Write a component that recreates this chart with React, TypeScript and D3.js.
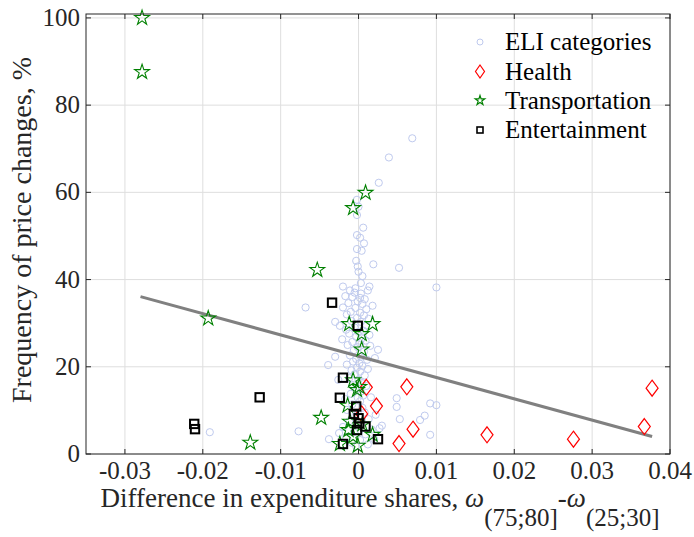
import React, { useEffect, useRef } from 'react';
import * as d3 from 'd3';

// ELI categories: [difference in expenditure shares, frequency %]
const eliPoints: [number, number][] = [
  [0.0069, 72.4], [0.0039, 68.0], [0.0026, 62.2], [-0.0002, 58.3], [0.0, 56.7], [-0.0002, 54.8],
  [0.0006, 51.9], [-0.0002, 50.2], [0.0002, 49.6], [0.0007, 48.3], [-0.0002, 47.0], [0.0004, 46.6],
  [-0.0003, 44.3], [0.0019, 43.5], [0.0052, 42.7], [-0.0001, 43.0], [0.0, 41.8], [0.0005, 40.8],
  [0.0003, 39.2], [-0.002, 38.4], [0.0014, 38.4], [-0.0004, 38.0], [-0.0011, 37.5], [0.0012, 37.5],
  [0.01, 38.2], [-0.0005, 37.0], [0.0003, 36.8], [-0.0017, 36.2], [-0.0008, 36.0], [0.0002, 35.8],
  [0.0008, 35.5], [-0.0001, 35.0], [-0.0013, 34.6], [0.0005, 34.4], [-0.0068, 33.6], [-0.002, 33.6],
  [-0.0004, 33.5], [0.001, 33.2], [-0.001, 32.6], [0.0002, 32.4], [-0.0015, 32.0], [0.0007, 31.8],
  [-0.0002, 31.2], [0.0013, 31.0], [-0.0009, 30.5], [0.0003, 30.3], [-0.003, 30.3], [0.001, 29.5],
  [-0.0005, 29.0], [-0.0016, 28.5], [0.0006, 28.3], [0.0, 28.0], [-0.0012, 27.6], [0.0014, 27.3],
  [-0.0003, 26.9], [0.0004, 26.5], [-0.0021, 26.3], [0.0009, 26.0], [-0.0008, 25.7], [0.0002, 25.4],
  [-0.0014, 25.0], [0.0015, 24.8], [-0.0001, 24.5], [0.0025, 23.9], [-0.0006, 23.8], [0.0007, 23.5],
  [-0.003, 22.3], [-0.0011, 22.6], [0.0003, 22.3], [-0.0003, 21.8], [0.0011, 21.6], [-0.0007, 21.2],
  [0.0001, 20.8], [-0.0039, 20.4], [-0.0015, 20.5], [0.0005, 20.2], [-0.0002, 19.8], [0.0012, 19.5],
  [-0.0009, 19.2], [0.0002, 18.9], [-0.0005, 18.3], [0.0008, 18.0], [-0.0012, 17.4], [0.0, 17.0],
  [0.0004, 16.3], [-0.0007, 15.8], [0.001, 15.6], [-0.0003, 14.9], [0.0003, 14.3], [-0.001, 13.8],
  [0.0006, 13.4], [-0.0001, 12.9], [-0.0017, 12.6], [0.0002, 12.1], [0.0049, 12.8], [0.0049, 10.8],
  [0.0092, 11.6], [0.01, 11.2], [0.0085, 8.8], [0.0079, 7.8], [0.0053, 8.0], [0.0092, 4.4],
  [-0.0077, 5.2], [-0.0191, 5.0], [-0.0038, 3.4], [0.0027, 5.9], [-0.0008, 11.4], [0.0005, 10.6],
  [-0.0015, 10.1], [0.0008, 9.5], [-0.0004, 8.8], [0.0013, 8.0], [-0.0012, 7.5], [0.0003, 6.9],
  [-0.002, 6.2], [0.0017, 5.6], [-0.0006, 5.0], [0.0009, 4.5], [-0.0016, 3.8], [0.0002, 3.2],
  [-0.0009, 2.6], [0.0012, 2.2], [-0.0003, 1.8], [0.003, 6.5], [0.002, 3.4], [-0.0025, 4.8],
  [0.0021, 22.0], [-0.0024, 29.4], [0.0018, 34.0], [-0.0026, 17.0], [0.0016, 13.0], [0.0022, 9.0],
];

const healthPoints: [number, number][] = [
  [0.001, 15.3], [0.0023, 11.0], [0.0062, 15.4], [0.007, 5.7], [0.0052, 2.4],
  [0.0165, 4.4], [0.0276, 3.4], [0.0367, 6.3], [0.0377, 15.1], [0.0004, 9.2],
];

const transportPoints: [number, number][] = [
  [-0.0278, 100], [-0.0278, 87.6], [-0.0193, 31.1], [-0.0139, 2.6], [-0.0053, 42.2],
  [-0.0048, 8.3], [0.0009, 59.9], [-0.0007, 56.4], [-0.0012, 29.8], [0.0018, 29.8],
  [0.0004, 27.5], [0.0004, 24.0], [-0.0007, 16.9], [0.0001, 15.4], [-0.0002, 14.7],
  [-0.0014, 11.1], [-0.0011, 7.4], [0.0005, 6.8], [0.0018, 4.4], [-0.0007, 4.0],
  [-0.0024, 2.3], [-0.0001, 1.9], [-0.0013, 5.5],
];

const entertainmentPoints: [number, number][] = [
  [-0.0211, 6.9], [-0.021, 5.7], [-0.0127, 13.0], [-0.0034, 34.7], [-0.0001, 29.4],
  [-0.002, 17.5], [-0.0024, 12.9], [-0.0003, 10.9], [-0.0006, 9.2], [0.0, 8.2],
  [0.0001, 7.0], [0.0009, 6.3], [-0.0002, 5.5], [0.0025, 3.4], [-0.002, 2.3],
];

// fitted line endpoints
const fitX = [-0.028, 0.0377];
const fitY = [36.1, 4.0];

const xTicks = [-0.03, -0.02, -0.01, 0, 0.01, 0.02, 0.03, 0.04];
const xTickLabels = ['-0.03', '-0.02', '-0.01', '0', '0.01', '0.02', '0.03', '0.04'];
const yTicks = [0, 20, 40, 60, 80, 100];

const legendLabels = ['ELI categories', 'Health', 'Transportation', 'Entertainment'];

const FONT = '"Liberation Serif", "Times New Roman", serif';

function starPath(r: number) {
  const inner = r * 0.382;
  const pts: string[] = [];
  for (let i = 0; i < 10; i++) {
    const rad = i % 2 === 0 ? r : inner;
    const a = -Math.PI / 2 + (i * Math.PI) / 5;
    pts.push(`${(rad * Math.cos(a)).toFixed(2)},${(rad * Math.sin(a)).toFixed(2)}`);
  }
  return 'M' + pts.join('L') + 'Z';
}

function diamondPath(w: number, h: number) {
  return `M0,${-h}L${w},0L0,${h}L${-w},0Z`;
}

export default function App() {
  const svgRef = useRef<SVGSVGElement | null>(null);

  useEffect(() => {
    if (!svgRef.current) return;
    const svg = d3.select(svgRef.current);
    svg.selectAll('*').remove();

    const left = 86, right = 670, top = 14, bottom = 454;
    const x = d3.scaleLinear().domain([-0.035, 0.04]).range([left, right]);
    const y = d3.scaleLinear().domain([0, 100.9]).range([bottom, top]);

    svg.append('rect').attr('width', 694).attr('height', 537).attr('fill', '#fff');

    // grid
    const grid = svg.append('g').attr('stroke', '#dedede').attr('stroke-width', 1);
    xTicks.forEach((t) => {
      grid.append('line').attr('x1', x(t)).attr('x2', x(t)).attr('y1', top).attr('y2', bottom);
    });
    yTicks.forEach((t) => {
      grid.append('line').attr('x1', left).attr('x2', right).attr('y1', y(t)).attr('y2', y(t));
    });

    const plot = svg.append('g');

    plot
      .selectAll('circle.eli')
      .data(eliPoints)
      .enter()
      .append('circle')
      .attr('cx', (d) => x(d[0]))
      .attr('cy', (d) => y(d[1]))
      .attr('r', 3.6)
      .attr('fill', 'none')
      .attr('stroke', '#bfcaee')
      .attr('stroke-width', 1);

    const line = d3
      .line<number>()
      .x((d) => x(d))
      .y((d, i) => y(fitY[i]));
    plot
      .append('path')
      .datum(fitX)
      .attr('d', line)
      .attr('fill', 'none')
      .attr('stroke', '#808080')
      .attr('stroke-width', 3);

    plot
      .selectAll('path.health')
      .data(healthPoints)
      .enter()
      .append('path')
      .attr('d', diamondPath(6, 8))
      .attr('transform', (d) => `translate(${x(d[0])},${y(d[1])})`)
      .attr('fill', 'none')
      .attr('stroke', '#ff0000')
      .attr('stroke-width', 1.2);

    plot
      .selectAll('path.transport')
      .data(transportPoints)
      .enter()
      .append('path')
      .attr('d', starPath(7.8))
      .attr('transform', (d) => `translate(${x(d[0])},${y(d[1])})`)
      .attr('fill', 'none')
      .attr('stroke', '#008000')
      .attr('stroke-width', 1.1);

    plot
      .selectAll('rect.ent')
      .data(entertainmentPoints)
      .enter()
      .append('rect')
      .attr('x', (d) => x(d[0]) - 4.2)
      .attr('y', (d) => y(d[1]) - 4.2)
      .attr('width', 8.4)
      .attr('height', 8.4)
      .attr('fill', 'none')
      .attr('stroke', '#000')
      .attr('stroke-width', 2);

    // frame + ticks
    const frame = svg.append('g').attr('stroke', '#262626').attr('stroke-width', 1);
    frame
      .append('rect')
      .attr('x', left)
      .attr('y', top)
      .attr('width', right - left)
      .attr('height', bottom - top)
      .attr('fill', 'none');
    xTicks.forEach((t) => {
      frame.append('line').attr('x1', x(t)).attr('x2', x(t)).attr('y1', bottom).attr('y2', bottom - 5);
      frame.append('line').attr('x1', x(t)).attr('x2', x(t)).attr('y1', top).attr('y2', top + 5);
    });
    yTicks.forEach((t) => {
      frame.append('line').attr('x1', left).attr('x2', left + 5).attr('y1', y(t)).attr('y2', y(t));
      frame.append('line').attr('x1', right).attr('x2', right - 5).attr('y1', y(t)).attr('y2', y(t));
    });

    const labels = svg.append('g').attr('font-family', FONT).attr('fill', '#262626');
    xTicks.forEach((t, i) => {
      labels
        .append('text')
        .attr('x', x(t))
        .attr('y', bottom + 25)
        .attr('text-anchor', 'middle')
        .attr('font-size', 25)
        .text(xTickLabels[i]);
    });
    yTicks.forEach((t) => {
      labels
        .append('text')
        .attr('x', left - 6)
        .attr('y', y(t) + 8)
        .attr('text-anchor', 'end')
        .attr('font-size', 25)
        .text(String(t));
    });

    // x label
    const xl = labels
      .append('text')
      .attr('x', (left + right) / 2 + 2)
      .attr('y', 507)
      .attr('text-anchor', 'middle')
      .attr('font-size', 27);
    xl.append('tspan').text('Difference in expenditure shares, ');
    xl.append('tspan').attr('font-style', 'italic').text('ω');
    xl.append('tspan').attr('dy', 19).attr('font-size', 25).text('(75;80]');
    xl.append('tspan').attr('dy', -19).text('-');
    xl.append('tspan').attr('font-style', 'italic').text('ω');
    xl.append('tspan').attr('dy', 19).attr('font-size', 25).text('(25;30]');

    // y label
    labels
      .append('text')
      .attr('transform', `translate(31,${(top + bottom) / 2 - 4}) rotate(-90)`)
      .attr('text-anchor', 'middle')
      .attr('font-size', 28)
      .text('Frequency of price changes, %');

    // legend
    const legend = svg.append('g');
    const rowY = [42, 71.5, 100.5, 130];
    const lx = 480;
    legend.append('circle').attr('cx', lx).attr('cy', rowY[0]).attr('r', 3)
      .attr('fill', 'none').attr('stroke', '#bfcaee');
    legend.append('path').attr('d', diamondPath(4.5, 6.5)).attr('transform', `translate(${lx},${rowY[1]})`)
      .attr('fill', 'none').attr('stroke', '#ff0000').attr('stroke-width', 1.2);
    legend.append('path').attr('d', starPath(5)).attr('transform', `translate(${lx},${rowY[2]})`)
      .attr('fill', 'none').attr('stroke', '#008000').attr('stroke-width', 1.2);
    legend.append('rect').attr('x', lx - 3).attr('y', rowY[3] - 3).attr('width', 6).attr('height', 6)
      .attr('fill', 'none').attr('stroke', '#000').attr('stroke-width', 1.6);
    legendLabels.forEach((l, i) => {
      legend
        .append('text')
        .attr('x', 505)
        .attr('y', rowY[i] + 8)
        .attr('font-family', FONT)
        .attr('font-size', 25)
        .attr('fill', '#000')
        .text(l);
    });
  }, []);

  return (
    <div style={{ position: 'absolute', left: 0, top: 0 }}>
      <svg ref={svgRef} width={694} height={537} />
    </div>
  );
}
